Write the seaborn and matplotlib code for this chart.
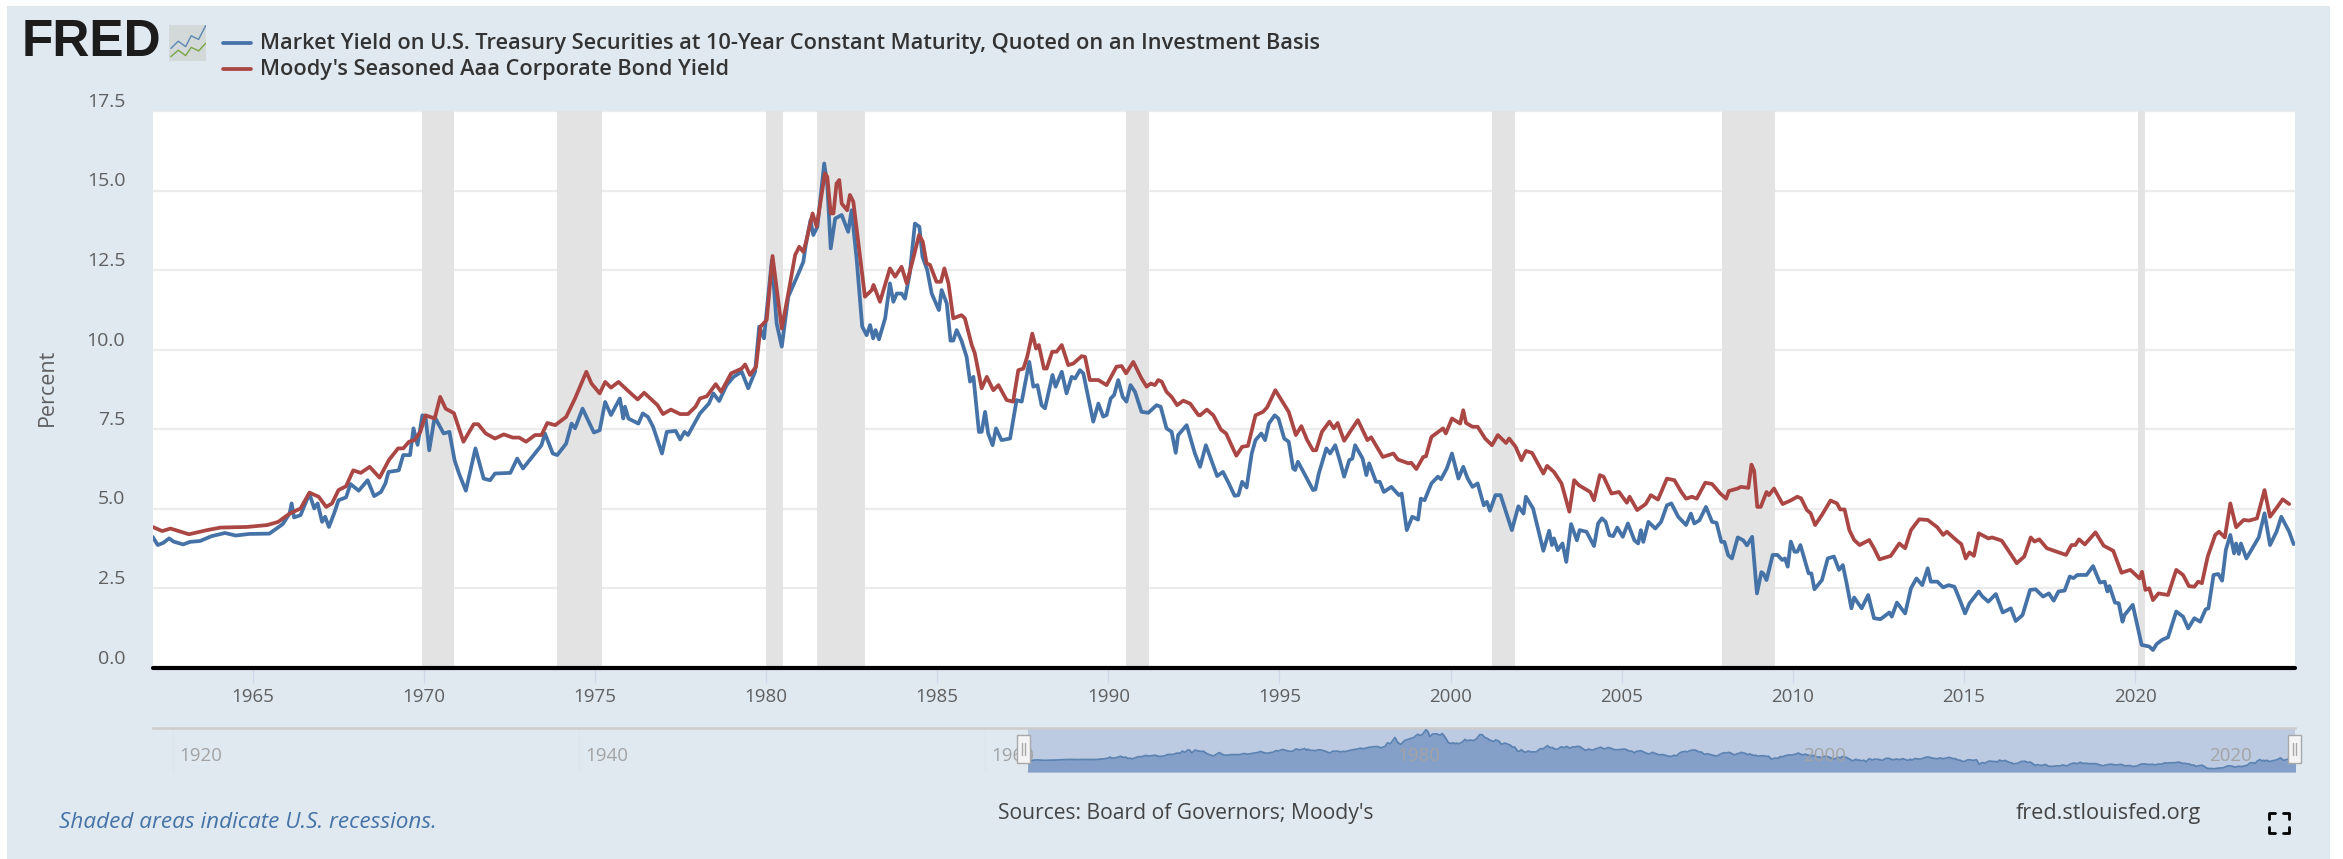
import numpy as np
import pandas as pd
import matplotlib
matplotlib.use('Agg')
import matplotlib.pyplot as plt
import seaborn as sns
from matplotlib.lines import Line2D
from matplotlib.patches import Rectangle
from matplotlib.transforms import ScaledTranslation

# Values
tsy_dates = [
    1962.08, 1962.23, 1962.39, 1962.56, 1962.69, 1962.97, 1963.17, 1963.47, 1963.8, 1964.19, 1964.51, 1964.9,
    1965.49, 1965.88, 1966.08, 1966.14, 1966.21, 1966.4, 1966.66, 1966.8, 1966.9, 1967.03, 1967.12, 1967.23,
    1967.38, 1967.51, 1967.73, 1967.86, 1968.1, 1968.36, 1968.55, 1968.75, 1968.88, 1968.97, 1969.27, 1969.4,
    1969.6, 1969.7, 1969.82, 1969.96, 1970.05, 1970.16, 1970.32, 1970.58, 1970.75, 1970.9, 1971.03, 1971.23,
    1971.51, 1971.75, 1971.94, 1972.08, 1972.53, 1972.73, 1972.9, 1973.25, 1973.44, 1973.54, 1973.77, 1973.9,
    1974.16, 1974.32, 1974.42, 1974.64, 1974.97, 1975.14, 1975.3, 1975.47, 1975.73, 1975.83, 1975.88, 1975.98,
    1976.27, 1976.4, 1976.55, 1976.7, 1976.96, 1977.1, 1977.36, 1977.49, 1977.62, 1977.72, 1977.88, 1978.07,
    1978.33, 1978.46, 1978.63, 1978.85, 1979.05, 1979.29, 1979.48, 1979.68, 1979.8, 1979.94, 1980.17, 1980.31,
    1980.46, 1980.65, 1980.97, 1981.09, 1981.16, 1981.3, 1981.38, 1981.5, 1981.7, 1981.79, 1981.89, 1982.02,
    1982.21, 1982.4, 1982.5, 1982.65, 1982.81, 1982.94, 1983.04, 1983.13, 1983.2, 1983.3, 1983.48, 1983.62,
    1983.72, 1983.82, 1983.96, 1984.06, 1984.2, 1984.35, 1984.48, 1984.57, 1984.71, 1984.84, 1985.05, 1985.13,
    1985.28, 1985.39, 1985.47, 1985.57, 1985.71, 1985.86, 1985.96, 1986.06, 1986.22, 1986.3, 1986.4, 1986.49,
    1986.62, 1986.72, 1986.88, 1987.13, 1987.32, 1987.47, 1987.69, 1987.81, 1987.93, 1988.05, 1988.15, 1988.37,
    1988.46, 1988.64, 1988.78, 1988.93, 1989.03, 1989.17, 1989.27, 1989.56, 1989.71, 1989.85, 1989.95, 1990.07,
    1990.17, 1990.29, 1990.42, 1990.53, 1990.65, 1990.78, 1990.97, 1991.17, 1991.41, 1991.53, 1991.7, 1991.85,
    1991.97, 1992.04, 1992.29, 1992.53, 1992.68, 1992.85, 1993.18, 1993.35, 1993.52, 1993.69, 1993.8, 1993.91,
    1994.04, 1994.19, 1994.3, 1994.47, 1994.58, 1994.69, 1994.86, 1994.97, 1995.14, 1995.27, 1995.4, 1995.46,
    1995.54, 1995.75, 1995.98, 1996.05, 1996.15, 1996.37, 1996.48, 1996.63, 1996.76, 1996.89, 1997.04, 1997.13,
    1997.21, 1997.43, 1997.54, 1997.62, 1997.82, 1997.93, 1998.05, 1998.27, 1998.49, 1998.57, 1998.72, 1998.88,
    1999.05, 1999.13, 1999.24, 1999.44, 1999.63, 1999.72, 1999.89, 2000.04, 2000.23, 2000.37, 2000.5, 2000.64,
    2000.79, 2000.97, 2001.06, 2001.15, 2001.31, 2001.46, 2001.57, 2001.79, 2001.98, 2002.13, 2002.2, 2002.41,
    2002.71, 2002.88, 2002.96, 2003.02, 2003.13, 2003.27, 2003.38, 2003.52, 2003.69, 2003.77, 2003.97, 2004.19,
    2004.31, 2004.42, 2004.53, 2004.64, 2004.75, 2004.87, 2005.03, 2005.18, 2005.37, 2005.48, 2005.56, 2005.63,
    2005.78, 2005.98, 2006.15, 2006.32, 2006.45, 2006.65, 2006.88, 2007.02, 2007.12, 2007.27, 2007.46, 2007.64,
    2007.77, 2007.91, 2008.0, 2008.11, 2008.22, 2008.39, 2008.55, 2008.66, 2008.81, 2008.95, 2009.08, 2009.14,
    2009.23, 2009.41, 2009.55, 2009.69, 2009.77, 2009.85, 2009.94, 2010.05, 2010.13, 2010.22, 2010.46, 2010.54,
    2010.63, 2010.85, 2011.02, 2011.2, 2011.35, 2011.46, 2011.57, 2011.71, 2011.79, 2012.01, 2012.2, 2012.37,
    2012.56, 2012.82, 2012.89, 2013.04, 2013.28, 2013.45, 2013.61, 2013.78, 2013.94, 2014.03, 2014.22, 2014.39,
    2014.55, 2014.72, 2014.88, 2015.03, 2015.16, 2015.43, 2015.54, 2015.71, 2015.93, 2016.13, 2016.37, 2016.51,
    2016.71, 2016.93, 2017.09, 2017.31, 2017.48, 2017.62, 2017.76, 2017.94, 2018.09, 2018.2, 2018.31, 2018.58,
    2018.77, 2018.97, 2019.11, 2019.19, 2019.25, 2019.41, 2019.52, 2019.63, 2019.69, 2019.93, 2020.19, 2020.41,
    2020.52, 2020.63, 2020.79, 2020.96, 2021.2, 2021.4, 2021.55, 2021.73, 2021.9, 2022.06, 2022.14, 2022.29,
    2022.43, 2022.54, 2022.65, 2022.78, 2022.89, 2022.95, 2023.03, 2023.09, 2023.25, 2023.61, 2023.78, 2023.94,
    2024.13, 2024.27, 2024.5, 2024.63,
]
tsy_yield = [
    4.11, 3.85, 3.92, 4.06, 3.96, 3.87, 3.95, 3.98, 4.13, 4.23, 4.15, 4.20,
    4.21, 4.51, 4.84, 5.16, 4.72, 4.79, 5.47, 5.0, 5.16, 4.58, 4.74, 4.42,
    4.84, 5.26, 5.35, 5.77, 5.56, 5.89, 5.39, 5.52, 5.79, 6.15, 6.2, 6.68,
    6.68, 7.52, 7.0, 7.93, 7.9, 6.83, 7.88, 7.36, 7.41, 6.52, 6.1, 5.56,
    6.89, 5.94, 5.89, 6.1, 6.12, 6.57, 6.26, 6.73, 6.99, 7.36, 6.73, 6.68,
    7.04, 7.67, 7.52, 8.14, 7.39, 7.46, 8.35, 7.94, 8.46, 7.83, 8.2, 7.83,
    7.67, 7.99, 7.88, 7.57, 6.73, 7.41, 7.44, 7.17, 7.41, 7.31, 7.62, 7.99,
    8.3, 8.62, 8.38, 8.88, 9.14, 9.3, 8.78, 9.3, 10.72, 10.35, 12.81, 10.82,
    10.09, 11.66, 12.45, 12.76, 13.28, 14.07, 13.6, 13.86, 15.85, 15.17, 13.18, 14.12,
    14.23, 13.7, 14.38, 12.81, 10.72, 10.45, 10.77, 10.35, 10.61, 10.32, 10.98, 12.08,
    11.5, 11.76, 11.76, 11.6, 12.39, 13.96, 13.86, 12.92, 12.5, 11.76, 11.24, 11.87,
    11.45, 10.28, 10.28, 10.61, 10.28, 9.77, 8.99, 9.14, 7.41, 7.41, 8.04, 7.36,
    6.99, 7.52, 7.15, 7.2, 8.41, 8.36, 9.61, 8.83, 8.88, 8.25, 8.15, 9.2,
    8.83, 9.3, 8.62, 9.14, 9.09, 9.35, 9.25, 7.73, 8.3, 7.89, 7.94, 8.46,
    8.57, 9.04, 8.51, 8.36, 8.88, 8.67, 8.04, 8.01, 8.25, 8.2, 7.52, 7.41,
    6.75, 7.31, 7.62, 6.73, 6.31, 6.99, 6.02, 6.15, 5.79, 5.4, 5.42, 5.84,
    5.66, 6.73, 7.15, 7.36, 7.15, 7.67, 7.93, 7.83, 7.2, 7.1, 6.26, 6.21,
    6.47, 6.05, 5.58, 5.6, 6.1, 6.89, 6.73, 6.99, 6.52, 6.0, 6.52, 6.57,
    6.99, 6.57, 6.05, 6.42, 5.84, 5.84, 5.52, 5.68, 5.42, 5.47, 4.32, 4.74,
    4.65, 5.31, 5.26, 5.79, 6.0, 5.92, 6.26, 6.73, 5.94, 6.31, 5.94, 5.68,
    5.79, 5.1, 5.21, 4.93, 5.42, 5.42, 5.05, 4.32, 5.07, 4.84, 5.37, 5.0,
    3.67, 4.3, 3.85, 4.06, 3.69, 3.9, 3.32, 4.51, 4.0, 4.32, 4.27, 3.82,
    4.53, 4.69, 4.58, 4.16, 4.13, 4.4, 4.11, 4.53, 4.0, 3.9, 4.32, 3.95,
    4.58, 4.37, 4.58, 5.1, 5.16, 4.74, 4.48, 4.84, 4.53, 4.63, 5.05, 4.58,
    4.55, 3.95, 3.95, 3.53, 3.43, 4.09, 4.0, 3.84, 4.11, 2.33, 3.0, 2.95,
    2.75, 3.54, 3.54, 3.38, 3.43, 3.17, 3.96, 3.64, 3.64, 3.85, 2.96, 2.96,
    2.46, 2.75, 3.43, 3.49, 3.07, 3.22, 2.65, 1.86, 2.2, 1.86, 2.28, 1.55,
    1.52, 1.73, 1.6, 2.04, 1.7, 2.49, 2.8, 2.59, 3.12, 2.7, 2.7, 2.52,
    2.59, 2.54, 2.12, 1.7, 2.02, 2.39, 2.23, 2.07, 2.31, 1.73, 1.86, 1.46,
    1.65, 2.44, 2.46, 2.23, 2.33, 2.1, 2.39, 2.42, 2.86, 2.81, 2.91, 2.91,
    3.19, 2.67, 2.7, 2.39, 2.56, 2.04, 2.02, 1.44, 1.65, 1.97, 0.71, 0.66,
    0.55, 0.74, 0.87, 0.95, 1.76, 1.6, 1.23, 1.55, 1.44, 1.83, 1.86, 2.91,
    2.94, 2.73, 3.7, 4.17, 3.59, 3.9, 3.57, 3.9, 3.43, 4.09, 4.85, 3.85,
    4.27, 4.74, 4.27, 3.88,
]

aaa_dates = [
    1962.08, 1962.36, 1962.6, 1963.14, 1963.67, 1964.06, 1964.84, 1965.43, 1965.75, 1966.08, 1966.4, 1966.66,
    1966.93, 1967.15, 1967.32, 1967.51, 1967.73, 1967.94, 1968.16, 1968.42, 1968.71, 1968.98, 1969.25, 1969.4,
    1969.57, 1969.73, 1969.9, 1970.05, 1970.32, 1970.48, 1970.64, 1970.88, 1971.16, 1971.46, 1971.59, 1971.81,
    1972.08, 1972.34, 1972.6, 1972.79, 1972.99, 1973.25, 1973.44, 1973.61, 1973.84, 1974.16, 1974.42, 1974.75,
    1974.9, 1975.14, 1975.3, 1975.47, 1975.69, 1976.05, 1976.25, 1976.44, 1976.83, 1976.99, 1977.22, 1977.49,
    1977.72, 1977.94, 1978.07, 1978.27, 1978.53, 1978.69, 1978.98, 1979.29, 1979.39, 1979.53, 1979.71, 1979.84,
    1980.02, 1980.19, 1980.46, 1980.65, 1980.85, 1980.97, 1981.09, 1981.17, 1981.36, 1981.48, 1981.72, 1981.79,
    1981.89, 1981.97, 1982.06, 1982.14, 1982.21, 1982.37, 1982.45, 1982.55, 1982.89, 1983.09, 1983.14, 1983.33,
    1983.62, 1983.77, 1983.96, 1984.11, 1984.3, 1984.47, 1984.58, 1984.69, 1984.79, 1984.98, 1985.11, 1985.21,
    1985.33, 1985.47, 1985.71, 1985.81, 1986.01, 1986.1, 1986.3, 1986.45, 1986.64, 1986.79, 1987.03, 1987.22,
    1987.37, 1987.52, 1987.63, 1987.78, 1987.89, 1987.97, 1988.12, 1988.2, 1988.36, 1988.49, 1988.64, 1988.83,
    1988.98, 1989.22, 1989.32, 1989.46, 1989.71, 1989.95, 1990.24, 1990.39, 1990.52, 1990.73, 1990.97, 1991.12,
    1991.24, 1991.36, 1991.46, 1991.56, 1991.7, 1991.85, 1992.01, 1992.19, 1992.39, 1992.63, 1992.68, 1992.88,
    1993.07, 1993.29, 1993.44, 1993.74, 1993.91, 1994.08, 1994.3, 1994.52, 1994.64, 1994.88, 1995.03, 1995.27,
    1995.48, 1995.64, 1995.81, 1995.98, 1996.07, 1996.24, 1996.46, 1996.59, 1996.7, 1996.89, 1997.06, 1997.29,
    1997.57, 1997.68, 1998.02, 1998.33, 1998.46, 1998.77, 1998.85, 1999.0, 1999.2, 1999.28, 1999.44, 1999.78,
    1999.86, 2000.04, 2000.28, 2000.37, 2000.45, 2000.64, 2000.79, 2001.01, 2001.21, 2001.38, 2001.62, 2001.71,
    2001.9, 2002.07, 2002.2, 2002.38, 2002.71, 2002.82, 2003.02, 2003.24, 2003.47, 2003.61, 2003.75, 2004.08,
    2004.19, 2004.36, 2004.47, 2004.7, 2004.92, 2005.15, 2005.23, 2005.45, 2005.7, 2005.85, 2006.06, 2006.32,
    2006.54, 2006.74, 2006.88, 2007.05, 2007.19, 2007.44, 2007.64, 2007.88, 2008.05, 2008.13, 2008.39, 2008.48,
    2008.7, 2008.79, 2008.87, 2008.96, 2009.06, 2009.23, 2009.3, 2009.45, 2009.7, 2009.95, 2010.13, 2010.24,
    2010.41, 2010.52, 2010.65, 2010.85, 2011.1, 2011.29, 2011.38, 2011.51, 2011.65, 2011.79, 2011.95, 2012.23,
    2012.37, 2012.53, 2012.86, 2013.11, 2013.28, 2013.45, 2013.69, 2013.94, 2014.22, 2014.39, 2014.5, 2014.77,
    2014.92, 2015.05, 2015.16, 2015.29, 2015.43, 2015.71, 2015.82, 2016.1, 2016.32, 2016.54, 2016.76, 2016.95,
    2017.06, 2017.2, 2017.42, 2017.98, 2018.14, 2018.25, 2018.36, 2018.53, 2018.84, 2019.08, 2019.36, 2019.6,
    2019.86, 2020.13, 2020.2, 2020.3, 2020.41, 2020.52, 2020.68, 2020.96, 2021.2, 2021.4, 2021.57, 2021.73,
    2021.84, 2021.95, 2022.12, 2022.34, 2022.45, 2022.62, 2022.78, 2022.95, 2023.17, 2023.33, 2023.56, 2023.78,
    2023.94, 2024.16, 2024.31, 2024.5,
]
aaa_yield = [
    4.42, 4.29, 4.37, 4.19, 4.32, 4.40, 4.42, 4.48, 4.58, 4.84, 5.0, 5.5,
    5.37, 5.05, 5.16, 5.58, 5.7, 6.2, 6.12, 6.31, 5.97, 6.52, 6.89, 6.89,
    7.1, 7.15, 7.41, 7.93, 7.83, 8.51, 8.14, 8.0, 7.1, 7.65, 7.65, 7.36,
    7.2, 7.33, 7.23, 7.23, 7.1, 7.31, 7.31, 7.69, 7.62, 7.88, 8.46, 9.3,
    8.93, 8.62, 8.98, 8.8, 8.98, 8.62, 8.43, 8.64, 8.25, 7.97, 8.11, 7.97,
    7.97, 8.2, 8.46, 8.53, 8.91, 8.67, 9.25, 9.4, 9.53, 9.2, 9.46, 10.72,
    10.93, 12.94, 10.66, 11.76, 12.97, 13.23, 13.07, 13.39, 14.28, 13.86, 15.54, 15.43,
    14.28, 14.28, 15.22, 15.33, 14.59, 14.38, 14.86, 14.65, 11.66, 11.87, 12.03, 11.5,
    12.55, 12.29, 12.6, 12.08, 12.86, 13.6, 13.39, 12.71, 12.66, 12.13, 12.13, 12.55,
    12.08, 10.98, 11.08, 10.98, 10.14, 9.88, 8.78, 9.14, 8.72, 8.88, 8.41, 8.36,
    9.35, 9.4, 9.77, 10.5, 10.03, 10.14, 9.4, 9.4, 9.93, 9.93, 10.14, 9.51,
    9.56, 9.79, 9.77, 9.04, 9.04, 8.88, 9.46, 9.48, 9.25, 9.61, 9.09, 8.83,
    8.93, 8.88, 9.04, 8.99, 8.67, 8.51, 8.25, 8.39, 8.3, 7.94, 7.93, 8.11,
    7.93, 7.48, 7.36, 6.66, 6.94, 6.97, 7.93, 8.04, 8.18, 8.72, 8.46, 8.04,
    7.31, 7.59, 7.15, 6.83, 6.83, 7.41, 7.73, 7.52, 7.69, 7.13, 7.41, 7.78,
    7.15, 7.24, 6.62, 6.73, 6.54, 6.42, 6.44, 6.24, 6.62, 6.64, 7.25, 7.52,
    7.36, 7.83, 7.67, 8.09, 7.69, 7.57, 7.57, 7.2, 6.99, 7.31, 7.06, 7.2,
    6.94, 6.52, 6.81, 6.75, 6.1, 6.34, 6.15, 5.79, 4.9, 5.89, 5.73, 5.52,
    5.26, 6.05, 6.0, 5.47, 5.52, 5.18, 5.37, 4.95, 5.14, 5.42, 5.28, 5.94,
    5.89, 5.52, 5.31, 5.37, 5.31, 5.81, 5.77, 5.47, 5.31, 5.55, 5.63, 5.68,
    5.65, 6.38, 6.18, 5.05, 5.05, 5.52, 5.42, 5.63, 5.14, 5.26, 5.37, 5.32,
    4.95, 4.85, 4.48, 4.8, 5.25, 5.16, 4.97, 4.97, 4.32, 4.01, 3.85, 4.01,
    3.75, 3.4, 3.51, 3.9, 3.75, 4.32, 4.66, 4.64, 4.41, 4.17, 4.27, 4.01,
    3.88, 3.43, 3.62, 3.51, 4.22, 4.06, 4.09, 3.99, 3.64, 3.28, 3.49, 4.09,
    3.96, 4.03, 3.75, 3.54, 3.85, 3.85, 4.03, 3.87, 4.25, 3.83, 3.67, 2.98,
    3.07, 2.8, 3.01, 2.44, 2.49, 2.12, 2.33, 2.28, 3.07, 2.91, 2.56, 2.54,
    2.7, 2.65, 3.49, 4.17, 4.27, 4.09, 5.16, 4.41, 4.64, 4.62, 4.69, 5.58,
    4.74, 5.06, 5.29, 5.14,
]

# start and end of the recession bands
recession_start = [1969.96, 1973.88, 1980.0, 1981.5, 1990.52, 2001.2, 2007.92, 2020.08]
recession_end = [1970.88, 1975.2, 1980.5, 1982.88, 1991.2, 2001.87, 2009.47, 2020.3]

y_ticks = [0.0, 2.5, 5.0, 7.5, 10.0, 12.5, 15.0, 17.5]
x_ticks = [1965, 1970, 1975, 1980, 1985, 1990, 1995, 2000, 2005, 2010, 2015, 2020]
nav_ticks = [1920, 1940, 1960, 1980, 2000, 2020]

tsy_name = 'Market Yield on U.S. Treasury Securities at 10-Year Constant Maturity, Quoted on an Investment Basis'
aaa_name = "Moody's Seasoned Aaa Corporate Bond Yield"

W, H = 2343, 859
PANEL = '#e1e9f0'
BLUE = '#4572a7'
RED = '#aa4643'
FONT = ['Open Sans', 'DejaVu Sans']


# axes rectangle from pixel edges of the picture
def px_rect(left, top, right, bottom):
    return [left / W, 1 - bottom / H, (right - left) / W, (bottom - top) / H]


def fig_text(x, y, s, **kwargs):
    fig.text(x / W, 1 - y / H, s, va='center', **kwargs)


sns.set_theme(style='white')
plt.rcParams['font.family'] = FONT

fig = plt.figure(figsize=(W / 100, H / 100), dpi=100, facecolor='white')
fig.patches.append(Rectangle((7 / W, 0), 2323 / W, 1 - 6 / H, transform=fig.transFigure,
                             facecolor=PANEL, edgecolor='none', zorder=-5))

tsy = pd.DataFrame({'date': tsy_dates, 'value': tsy_yield})
aaa = pd.DataFrame({'date': aaa_dates, 'value': aaa_yield})

# Main chart
ax = fig.add_axes(px_rect(153, 111, 2295, 667.5))
ax.set_facecolor('white')
for s, e in zip(recession_start, recession_end):
    ax.axvspan(s, e, color='#e3e3e3', lw=0, zorder=1)
ax.hlines(y_ticks[1:], 1962.09, 2024.67, color='#ececec', lw=1.6, zorder=0.5)
sns.lineplot(data=tsy, x='date', y='value', color=BLUE, lw=2.7, estimator=None, ax=ax, zorder=3)
sns.lineplot(data=aaa, x='date', y='value', color=RED, lw=2.7, estimator=None, ax=ax, zorder=4)
ax.set_xlim(1962.09, 2024.67)
ax.set_ylim(0, 17.5)
ax.set_xlabel('')
ax.set_ylabel('')
for side in ['top', 'right', 'left', 'bottom']:
    ax.spines[side].set_visible(False)
ax.axhline(0, color='black', lw=3, zorder=5, clip_on=False)

ax.set_xticks(x_ticks)
ax.set_xticklabels([str(t) for t in x_ticks], color='#5f5f5f', fontsize=13.5)
ax.tick_params(axis='x', bottom=True, length=11, width=1, color='#cdd9ea', pad=4)
ax.set_yticks(y_ticks)
ax.set_yticklabels([f'{t:.1f}' for t in y_ticks], color='#5f5f5f', fontsize=14)
ax.tick_params(axis='y', left=False, pad=14)
up = ScaledTranslation(0, 11 / 100, fig.dpi_scale_trans)
for label in ax.get_yticklabels():
    label.set_transform(label.get_transform() + up)

fig_text(47, 387, 'Percent', rotation=90, ha='center', color='#5f5f5f', fontsize=15.5)

# Range navigator under the chart
nav = fig.add_axes(px_rect(153, 728, 2295, 772))
nav.set_facecolor(PANEL)
nav.set_xlim(1919, 2024.5)
nav.set_ylim(-0.7, 16.5)
for t in nav_ticks:
    nav.axvline(t, color='#dde4ec', lw=1, zorder=1)
    nav.annotate(str(t), (t, 0.36), xycoords=('data', 'axes fraction'), xytext=(4, 0),
                 textcoords='offset points', va='center', ha='left', color='#a3a3a3',
                 fontsize=13.5, zorder=6)
nav.axvspan(1962.09, 2024.5, color='#bccae2', lw=0, zorder=2)
nav.fill_between(tsy_dates, tsy_yield, -0.7, color='#84a0c9', lw=0, zorder=3)
sns.lineplot(data=tsy, x='date', y='value', color=BLUE, lw=1.2, alpha=0.8, estimator=None, ax=nav, zorder=4)
nav.set_xlabel('')
nav.set_ylabel('')
nav.set_xticks([])
nav.set_yticks([])
for side in ['left', 'right']:
    nav.spines[side].set_visible(False)
nav.spines['top'].set_color('#cccccc')
nav.spines['top'].set_linewidth(1.8)
nav.spines['bottom'].set_color('#cfd6df')
nav.spines['bottom'].set_bounds(1962.09, 2024.5)

# Navigator handles
for x in [1017, 2288]:
    fig.patches.append(Rectangle((x / W, 1 - 763 / H), 13 / W, 28 / H, transform=fig.transFigure,
                                 facecolor='#f4f4f4', edgecolor='#a8a8a8', lw=1, zorder=8))
    for dx in [5, 8]:
        fig.add_artist(Line2D([(x + dx) / W] * 2, [1 - 755 / H, 1 - 743 / H], color='#a8a8a8', lw=1, zorder=9))

# FRED logo and small chart icon
fig_text(22, 43, 'FRED', family='Liberation Sans', fontweight='bold', fontsize=37, color='#1c1c1c')
icon = fig.add_axes(px_rect(169, 25, 206, 61))
icon.axis('off')
icon.add_patch(Rectangle((0, 0), 1, 1, transform=icon.transAxes, facecolor='#d3d8d8', edgecolor='none'))
icon.plot([0.05, 0.25, 0.45, 0.6, 0.8, 1.0], [0.35, 0.55, 0.4, 0.7, 0.6, 1.0], color='#5b87b5', lw=1)
icon.plot([0.05, 0.25, 0.45, 0.6, 0.8, 1.0], [0.12, 0.3, 0.15, 0.38, 0.28, 0.5], color='#79a544', lw=1)
icon.set_xlim(0, 1)
icon.set_ylim(0, 1)

# Legend
for yy, colour, name in [(43, BLUE, tsy_name), (69, RED, aaa_name)]:
    fig.add_artist(Line2D([223 / W, 251 / W], [1 - yy / H] * 2, color=colour, lw=2.7))
    fig_text(260, yy + 1, name, ha='left', color='#333333', fontsize=15.7, fontweight='semibold')

# Footer
fig_text(59, 822, 'Shaded areas indicate U.S. recessions.', ha='left', color=BLUE, fontsize=16.2, style='italic')
fig_text(998, 814, "Sources: Board of Governors; Moody's", ha='left', color='#444444', fontsize=15.2)
fig_text(2016, 814, 'fred.stlouisfed.org', ha='left', color='#444444', fontsize=15.6)

# Fullscreen icon in the corner
for cx, cy, sx, sy in [(2269, 813, 1, 1), (2289, 813, -1, 1), (2269, 833, 1, -1), (2289, 833, -1, -1)]:
    fig.add_artist(Line2D([(cx + 6 * sx) / W, cx / W, cx / W],
                          [1 - cy / H, 1 - cy / H, 1 - (cy + 6 * sy) / H], color='black', lw=2))

fig.savefig('out.png', dpi=100)
